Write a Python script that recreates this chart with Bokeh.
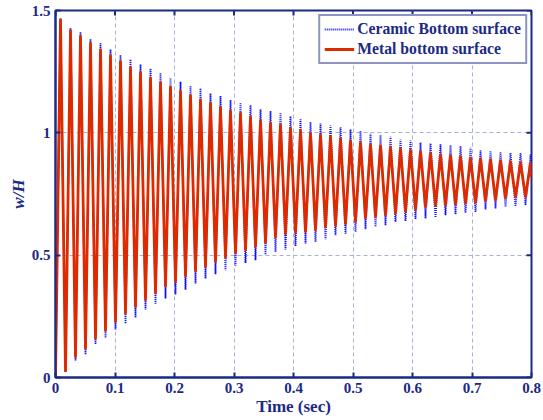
import math
from bokeh.plotting import figure
from bokeh.models import (Range1d, Legend, LegendItem, FixedTicker,
                          CustomJSTickFormatter)
from bokeh.embed import file_html
from bokeh.resources import INLINE

# ---- data (extrema of each oscillation) ----
trough_t = [0.0, 0.01681, 0.03361, 0.05042, 0.06723, 0.08404, 0.10084, 0.11765,
            0.13446, 0.15126, 0.16807, 0.18488, 0.20168, 0.21849, 0.23530, 0.25210,
            0.26891, 0.28572, 0.30253, 0.31933, 0.33614, 0.35295, 0.36975, 0.38656,
            0.40337, 0.42018, 0.43698, 0.45379, 0.47060, 0.48740, 0.50421, 0.52102,
            0.53782, 0.55463, 0.57144, 0.58825, 0.60505, 0.62186, 0.63867, 0.65547,
            0.67228, 0.68909, 0.70590, 0.72270, 0.73951, 0.75632, 0.77312, 0.78993]
peak_t = [0.00840, 0.02521, 0.04202, 0.05882, 0.07563, 0.09244, 0.10925, 0.12605,
          0.14286, 0.15967, 0.17647, 0.19328, 0.21009, 0.22689, 0.24370, 0.26051,
          0.27731, 0.29412, 0.31093, 0.32773, 0.34454, 0.36135, 0.37815, 0.39496,
          0.41177, 0.42858, 0.44539, 0.46219, 0.47900, 0.49581, 0.51261, 0.52942,
          0.54623, 0.56303, 0.57984, 0.59665, 0.61346, 0.63026, 0.64707, 0.66388,
          0.68068, 0.69749, 0.71430, 0.73110, 0.74791, 0.76472, 0.78153, 0.79833]

metal_peak = [1.462, 1.418, 1.394, 1.366, 1.339, 1.315, 1.291, 1.267, 1.246, 1.223,
              1.205, 1.187, 1.169, 1.152, 1.135, 1.121, 1.104, 1.090, 1.080, 1.066,
              1.050, 1.039, 1.032, 1.019, 1.009, 0.998, 0.991, 0.985, 0.975, 0.967,
              0.960, 0.951, 0.946, 0.941, 0.934, 0.928, 0.923, 0.916, 0.910, 0.907,
              0.903, 0.896, 0.893, 0.889, 0.885, 0.882, 0.878, 0.875]
metal_trough = [0.0, 0.027, 0.086, 0.120, 0.161, 0.192, 0.229, 0.263, 0.290, 0.318,
                0.345, 0.374, 0.393, 0.416, 0.436, 0.454, 0.474, 0.492, 0.509, 0.522,
                0.536, 0.552, 0.574, 0.588, 0.594, 0.597, 0.604, 0.615, 0.622, 0.629,
                0.638, 0.652, 0.658, 0.665, 0.672, 0.679, 0.688, 0.699, 0.703, 0.706,
                0.709, 0.713, 0.716, 0.723, 0.727, 0.734, 0.738, 0.740]
ceramic_peak = [1.468, 1.427, 1.412, 1.382, 1.366, 1.341, 1.318, 1.300, 1.280, 1.263,
                1.245, 1.224, 1.209, 1.191, 1.182, 1.161, 1.150, 1.134, 1.123, 1.113,
                1.096, 1.089, 1.082, 1.068, 1.055, 1.044, 1.038, 1.030, 1.023, 1.014,
                1.007, 0.996, 0.991, 0.984, 0.973, 0.968, 0.960, 0.957, 0.953, 0.950,
                0.946, 0.939, 0.929, 0.925, 0.921, 0.918, 0.917, 0.912]
ceramic_trough = [0.0, 0.022, 0.070, 0.094, 0.136, 0.162, 0.196, 0.220, 0.245, 0.278,
                  0.302, 0.323, 0.339, 0.359, 0.384, 0.404, 0.422, 0.438, 0.457, 0.468,
                  0.479, 0.502, 0.513, 0.523, 0.537, 0.548, 0.554, 0.565, 0.582, 0.588,
                  0.595, 0.606, 0.616, 0.622, 0.636, 0.640, 0.647, 0.650, 0.654, 0.663,
                  0.667, 0.673, 0.677, 0.687, 0.691, 0.697, 0.700, 0.704]
end_t = 0.8
metal_end = 0.82
ceramic_end = 0.85

x_ticks = [0, 0.1, 0.2, 0.3, 0.4, 0.5, 0.6, 0.7, 0.8]
y_ticks = [0, 0.5, 1, 1.5]
X_MAX = 0.8
Y_MAX = 1.5


def series(tr, pk, end):
    t, v = [], []
    for a, b, c, d in zip(trough_t, tr, peak_t, pk):
        t += [a, c]
        v += [b, d]
    t.append(end_t)
    v.append(end)
    return t, v


tc, vc = series(ceramic_trough, ceramic_peak, ceramic_end)
tm, vm = series(metal_trough, metal_peak, metal_end)

NAVY = "#1b2a84"
FONT = "Liberation Serif"

p = figure(width=543, height=420, output_backend="svg", toolbar_location=None,
           x_range=Range1d(0, X_MAX), y_range=Range1d(0, Y_MAX),
           min_border_left=55, min_border_right=12, min_border_top=10,
           min_border_bottom=43, outline_line_color=NAVY, outline_line_width=2)

r_c = p.line(tc, vc, line_color="#1010ff", line_width=1.8, line_dash="1 1")
r_m = p.line(tm, vm, line_color="#dd2a00", line_width=2.8, line_join="round")

# inward ticks on the top and right edges of the box
p.scatter(x_ticks, [Y_MAX] * len(x_ticks), marker="dash", angle=math.pi / 2,
          size=10, line_color=NAVY, line_width=2)
p.scatter([X_MAX] * len(y_ticks), y_ticks, marker="dash",
          size=10, line_color=NAVY, line_width=2)

fmt = CustomJSTickFormatter(code="return String(Math.round(tick*10)/10)")

for ax, ticks in ((p.xaxis[0], x_ticks), (p.yaxis[0], y_ticks)):
    ax.ticker = FixedTicker(ticks=ticks)
    ax.formatter = fmt
    ax.axis_line_color = NAVY
    ax.axis_line_width = 2
    ax.major_tick_line_color = NAVY
    ax.major_tick_line_width = 2
    ax.major_tick_in = 5
    ax.major_tick_out = 0
    ax.minor_tick_line_color = None
    ax.major_label_text_font = FONT
    ax.major_label_text_font_style = "bold"
    ax.major_label_text_font_size = "15px"
    ax.major_label_text_color = NAVY
    ax.axis_label_text_font = FONT
    ax.axis_label_text_color = NAVY

p.xaxis.axis_label = "Time (sec)"
p.xaxis.axis_label_text_font_style = "bold"
p.xaxis.axis_label_text_font_size = "17px"
p.xaxis.major_label_standoff = 5
p.xaxis.axis_label_standoff = 1
p.yaxis.axis_label = "w/H"
p.yaxis.axis_label_text_font_style = "bold italic"
p.yaxis.axis_label_text_font_size = "17px"
p.yaxis.major_label_standoff = 5
p.yaxis.axis_label_standoff = 1

p.grid.grid_line_color = "#a9b3d6"
p.grid.grid_line_dash = "4 3"
p.grid.grid_line_width = 1
p.xgrid.ticker = FixedTicker(ticks=x_ticks)
p.ygrid.ticker = FixedTicker(ticks=y_ticks)

legend = Legend(items=[LegendItem(label="Ceramic Bottom surface", renderers=[r_c]),
                       LegendItem(label="Metal bottom surface", renderers=[r_m])],
                location="top_right", border_line_color=NAVY, border_line_width=2,
                label_text_font=FONT, label_text_font_style="bold",
                label_text_font_size="15.7px", label_text_color=NAVY,
                glyph_width=30, glyph_height=14, spacing=2, padding=4, margin=4,
                label_standoff=3, background_fill_alpha=1)
p.add_layout(legend)

open("out.html", "w").write(file_html(p, INLINE))
